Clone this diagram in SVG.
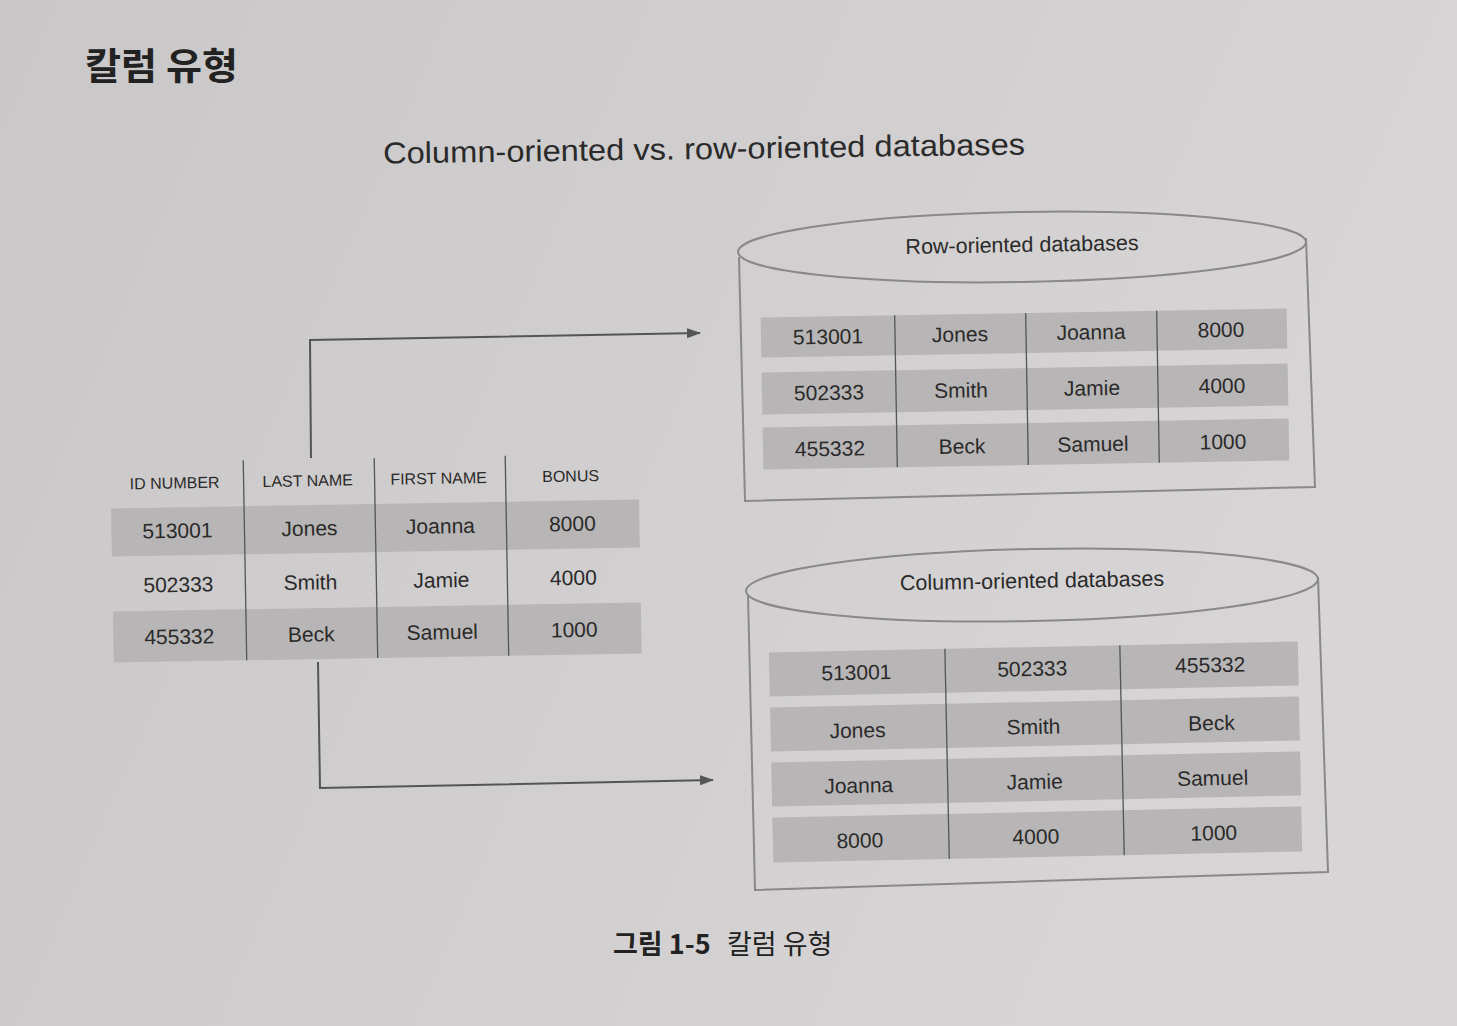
<svg xmlns="http://www.w3.org/2000/svg" width="1457" height="1026" viewBox="0 0 1457 1026">
<style>
.t{font-family:"Liberation Sans","Noto Sans CJK KR",sans-serif;fill:#2b2a2a;text-anchor:middle}
.c{font-size:21px}
.h{font-size:16px}
.lbl{font-size:21.5px}
.band{fill:#b7b5b5}
.div{stroke:#555;stroke-width:1.3;fill:none}
.cyl{stroke:#8a8888;stroke-width:2;fill:none}
.con{stroke:#555;stroke-width:2;fill:none}
.cap{font-family:"Noto Sans CJK KR",sans-serif;font-size:27px;fill:#222}
</style>
<defs>
<linearGradient id="bg" x1="0" y1="0" x2="1" y2="0.3">
<stop offset="0" stop-color="#c9c7c7"/>
<stop offset="1" stop-color="#d7d5d5"/>
</linearGradient>
<marker id="ah" markerWidth="14" markerHeight="10" refX="13" refY="5" orient="auto" markerUnits="userSpaceOnUse">
<path d="M0,0 L14,5 L0,10 Z" fill="#555"/>
</marker>
</defs>
<rect width="1457" height="1026" fill="url(#bg)"/>

<text x="85" y="80" font-family="'Noto Sans CJK KR',sans-serif" font-weight="bold" font-size="37" fill="#222" textLength="153" lengthAdjust="spacingAndGlyphs">칼럼 유형</text>

<text class="t" x="704" y="159" font-size="30" transform="rotate(-0.8 704 150)" textLength="642" lengthAdjust="spacingAndGlyphs">Column-oriented vs. row-oriented databases</text>

<g id="connectors">
<path class="con" d="M311 458 L310 340 L700 333" marker-end="url(#ah)"/>
<path class="con" d="M318 662 L320 788 L713 780" marker-end="url(#ah)"/>
</g>

<g id="source-table" transform="rotate(-1 376 560)">
<rect class="band" x="112" y="504" width="528" height="48"/>
<rect class="band" x="112" y="607" width="528" height="51"/>
<path class="div" d="M245 458 V658 M376 458 V658 M507 458 V658"/>
<g class="t h">
<text x="176" y="485">ID NUMBER</text>
<text x="309" y="485">LAST NAME</text>
<text x="440" y="485">FIRST NAME</text>
<text x="572" y="485">BONUS</text>
</g>
<g class="t c">
<text x="178" y="534.5">513001</text><text x="310" y="534.5">Jones</text><text x="441" y="534.5">Joanna</text><text x="573" y="534.5">8000</text>
<text x="178" y="588.5">502333</text><text x="310" y="588.5">Smith</text><text x="441" y="588.5">Jamie</text><text x="573" y="588.5">4000</text>
<text x="178" y="640.5">455332</text><text x="310" y="640.5">Beck</text><text x="441" y="640.5">Samuel</text><text x="573" y="640.5">1000</text>
</g>
</g>

<g id="row-db">
<path class="cyl" d="M739 257 L745 501 L1315 487 L1306 238"/>
<ellipse class="cyl" cx="1022" cy="247" rx="284" ry="35" fill="url(#bg)" transform="rotate(-1 1022 247)"/>
<text class="t lbl" x="1022" y="252" transform="rotate(-1 1022 245)">Row-oriented databases</text>
<g transform="rotate(-1 1027 390)">
<rect class="band" x="762" y="313" width="526" height="40"/>
<rect class="band" x="762" y="368" width="526" height="42"/>
<rect class="band" x="762" y="423" width="526" height="42"/>
<path class="div" d="M896 313 V465 M1027 313 V465 M1158 313 V465"/>
<g class="t c">
<text x="829" y="340.5">513001</text><text x="961" y="340.5">Jones</text><text x="1092" y="340.5">Joanna</text><text x="1222" y="340.5">8000</text>
<text x="829" y="396.5">502333</text><text x="961" y="396.5">Smith</text><text x="1092" y="396.5">Jamie</text><text x="1222" y="396.5">4000</text>
<text x="829" y="452.5">455332</text><text x="961" y="452.5">Beck</text><text x="1092" y="452.5">Samuel</text><text x="1222" y="452.5">1000</text>
</g>
</g>
</g>

<g id="column-db">
<path class="cyl" d="M748 595 L755 890 L1328 872 L1318 577"/>
<ellipse class="cyl" cx="1032" cy="585" rx="286" ry="36" fill="url(#bg)" transform="rotate(-1.2 1032 585)"/>
<text class="t lbl" x="1032" y="588" transform="rotate(-1 1032 581)">Column-oriented databases</text>
<g transform="rotate(-1.2 1036 750)">
<rect class="band" x="771" y="647" width="529" height="44"/>
<rect class="band" x="771" y="702" width="529" height="44"/>
<rect class="band" x="771" y="757" width="529" height="44"/>
<rect class="band" x="771" y="812" width="529" height="45"/>
<path class="div" d="M947 647 V857 M1122 647 V857"/>
<g class="t c">
<text x="858" y="676">513001</text><text x="1034" y="676">502333</text><text x="1212" y="676">455332</text>
<text x="858" y="734">Jones</text><text x="1034" y="734">Smith</text><text x="1212" y="734">Beck</text>
<text x="858" y="789">Joanna</text><text x="1034" y="789">Jamie</text><text x="1212" y="789">Samuel</text>
<text x="858" y="844">8000</text><text x="1034" y="844">4000</text><text x="1212" y="844">1000</text>
</g>
</g>
</g>

<text class="cap" x="613" y="954"><tspan font-weight="bold">그림 1-5</tspan><tspan x="727">칼럼 유형</tspan></text>
</svg>
